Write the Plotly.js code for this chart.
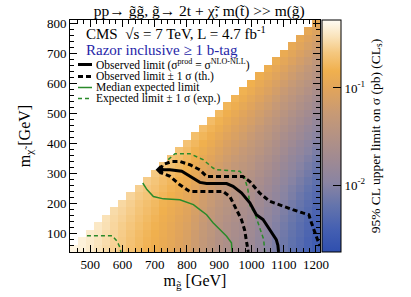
<!DOCTYPE html>
<html><head><meta charset="utf-8">
<script src="https://cdn.plot.ly/plotly-3.0.1.min.js"></script>
<style>html,body{margin:0;padding:0;background:#fff}#plot{width:411px;height:297px}</style>
</head><body><div id="plot"></div>
<script>
// gluino mass bin centres (GeV) and LSP mass bin centres (GeV)
const gluinoMass = [450,475,500,525,550,575,600,625,650,675,700,725,750,775,800,825,850,875,900,925,950,975,1000,1025,1050,1075,1100,1125,1150,1175,1200];
const lspMass = [50,75,100,125,150,175,200,225,250,275,300,325,350,375,400,425,450,475,500,525,550,575,600,625,650,675,700,725,750,775,800];
// log10 of the 95% CL upper limit on sigma (pb); one list per gluino mass, from m(LSP)=50 upward
const log10Limit = [
[-0.35],
[-0.38,-0.38],
[-0.42,-0.42,-0.42],
[-0.47,-0.46,-0.45,-0.44],
[-0.52,-0.51,-0.51,-0.49,-0.48],
[-0.58,-0.57,-0.56,-0.55,-0.54,-0.52],
[-0.63,-0.62,-0.61,-0.60,-0.58,-0.56,-0.54],
[-0.69,-0.68,-0.67,-0.65,-0.63,-0.61,-0.59,-0.56],
[-0.75,-0.74,-0.73,-0.71,-0.69,-0.67,-0.65,-0.62,-0.59],
[-0.80,-0.79,-0.78,-0.76,-0.74,-0.72,-0.70,-0.67,-0.64,-0.61],
[-0.85,-0.84,-0.83,-0.81,-0.79,-0.77,-0.75,-0.72,-0.69,-0.66,-0.63],
[-0.91,-0.90,-0.89,-0.87,-0.85,-0.83,-0.81,-0.78,-0.75,-0.72,-0.68,-0.65],
[-0.97,-0.96,-0.95,-0.93,-0.91,-0.89,-0.86,-0.83,-0.80,-0.77,-0.73,-0.70,-0.66],
[-1.04,-1.03,-1.02,-1.00,-0.98,-0.95,-0.92,-0.89,-0.86,-0.83,-0.79,-0.75,-0.71,-0.67],
[-1.11,-1.10,-1.09,-1.07,-1.04,-1.02,-0.99,-0.96,-0.92,-0.89,-0.85,-0.81,-0.77,-0.73,-0.68],
[-1.22,-1.21,-1.20,-1.17,-1.15,-1.12,-1.09,-1.06,-1.02,-0.98,-0.94,-0.90,-0.85,-0.81,-0.76,-0.71],
[-1.33,-1.32,-1.30,-1.28,-1.25,-1.22,-1.19,-1.15,-1.11,-1.07,-1.03,-0.98,-0.93,-0.88,-0.83,-0.78,-0.72],
[-1.42,-1.41,-1.39,-1.37,-1.34,-1.31,-1.27,-1.24,-1.20,-1.15,-1.11,-1.06,-1.01,-0.96,-0.90,-0.85,-0.79,-0.73],
[-1.52,-1.51,-1.49,-1.47,-1.44,-1.41,-1.37,-1.33,-1.29,-1.25,-1.20,-1.15,-1.10,-1.05,-0.99,-0.93,-0.87,-0.81,-0.75],
[-1.59,-1.58,-1.56,-1.54,-1.51,-1.48,-1.45,-1.41,-1.37,-1.33,-1.28,-1.23,-1.18,-1.13,-1.08,-1.02,-0.96,-0.90,-0.84,-0.78],
[-1.66,-1.65,-1.63,-1.61,-1.58,-1.55,-1.52,-1.48,-1.44,-1.40,-1.35,-1.31,-1.26,-1.20,-1.15,-1.09,-1.04,-0.98,-0.92,-0.85,-0.79],
[-1.72,-1.71,-1.69,-1.67,-1.64,-1.61,-1.58,-1.55,-1.51,-1.46,-1.42,-1.37,-1.33,-1.28,-1.22,-1.17,-1.11,-1.06,-1.00,-0.94,-0.87,-0.81],
[-1.78,-1.77,-1.75,-1.73,-1.71,-1.68,-1.65,-1.61,-1.57,-1.53,-1.49,-1.44,-1.40,-1.35,-1.30,-1.25,-1.19,-1.13,-1.08,-1.02,-0.96,-0.89,-0.83],
[-1.88,-1.87,-1.85,-1.83,-1.81,-1.78,-1.74,-1.71,-1.67,-1.63,-1.58,-1.54,-1.49,-1.44,-1.39,-1.34,-1.28,-1.22,-1.17,-1.11,-1.04,-0.98,-0.92,-0.85],
[-1.97,-1.96,-1.94,-1.92,-1.90,-1.87,-1.83,-1.80,-1.76,-1.72,-1.67,-1.63,-1.58,-1.53,-1.48,-1.42,-1.37,-1.31,-1.25,-1.19,-1.13,-1.06,-1.00,-0.93,-0.86],
[-2.07,-2.06,-2.04,-2.02,-1.99,-1.96,-1.93,-1.89,-1.85,-1.81,-1.77,-1.72,-1.67,-1.62,-1.57,-1.52,-1.46,-1.40,-1.34,-1.28,-1.22,-1.15,-1.09,-1.02,-0.95,-0.88],
[-2.16,-2.15,-2.13,-2.11,-2.08,-2.05,-2.02,-1.98,-1.95,-1.90,-1.86,-1.81,-1.77,-1.71,-1.66,-1.61,-1.55,-1.49,-1.43,-1.37,-1.31,-1.25,-1.18,-1.11,-1.04,-0.97,-0.90],
[-2.25,-2.24,-2.22,-2.20,-2.17,-2.14,-2.11,-2.07,-2.04,-1.99,-1.95,-1.90,-1.86,-1.81,-1.75,-1.70,-1.64,-1.59,-1.53,-1.46,-1.40,-1.34,-1.27,-1.20,-1.14,-1.06,-0.99,-0.92],
[-2.33,-2.32,-2.30,-2.28,-2.25,-2.22,-2.19,-2.16,-2.12,-2.08,-2.03,-1.99,-1.94,-1.89,-1.84,-1.78,-1.73,-1.67,-1.61,-1.55,-1.49,-1.42,-1.36,-1.29,-1.22,-1.15,-1.08,-1.00,-0.93],
[-2.42,-2.41,-2.39,-2.37,-2.34,-2.31,-2.28,-2.25,-2.21,-2.17,-2.12,-2.08,-2.03,-1.98,-1.93,-1.87,-1.82,-1.76,-1.70,-1.64,-1.58,-1.51,-1.45,-1.38,-1.31,-1.24,-1.17,-1.10,-1.03,-0.95],
[-2.50,-2.49,-2.47,-2.45,-2.43,-2.40,-2.36,-2.33,-2.29,-2.25,-2.21,-2.16,-2.11,-2.06,-2.01,-1.96,-1.90,-1.85,-1.79,-1.73,-1.67,-1.60,-1.54,-1.47,-1.41,-1.34,-1.27,-1.19,-1.12,-1.05,-0.97]
];
// limit contours (m_gluino, m_LSP)
const obsX = [717,747,784,809,840,861,923,943,969,995,1015,1036,1052,1066,1077,1082,1084];
const obsY = [312,312,307,290,270,266,266,257,235,202,162,146,120,100,79,60,37.5];
const obsUpX = [717,725,753,778,809,840,861,880,973,995,1025,1056,1097,1128,1159,1178,1186,1196,1206,1212.5];
const obsUpY = [312,329,340,340,329,312,290,290,290,273,235,207,190,179,168,162,135,101,75,58];
const obsDnX = [717,722,748,778,809,840,881,912,933,948,958,969,979,989,990];
const obsDnY = [312,301,290,262,240,240,240,240,223,190,168,146,110,50,37.5];
const expX = [663,676,696,727,778,820,840,861,881,902,923,938,940];
const expY = [268,246,223,215,212,196,179,162,135,112,90,68,37.5];
const expUpX = [742,763,809,850,881,892,964,979,989,996,1010,1025,1038,1041];
const expUpY = [346,366,366,346,318,312,307,285,246,190,168,123,79,37.5];
const expDnX = [490,568,583,593,595];
const expDnY = [92,92,74,51,37.5];
// colour bar
const cbMin = -2.69, cbMax = -0.30;
const cbMajor = [0.01, 0.1];
const cbMajorText = ['10<sup>-2</sup>', '10<sup>-1</sup>'];
const cbMinor = [0.003,0.004,0.005,0.006,0.007,0.008,0.009,0.02,0.03,0.04,0.05,0.06,0.07,0.08,0.09,0.2,0.3,0.4];

const z = lspMass.map((m, j) => gluinoMass.map((g, k) => {
  const col = log10Limit[k];
  return (col && j < col.length) ? col[j] : null;
}));

const FONT = 'Liberation Serif, Times New Roman, serif';

const colorscale = [
  [0.00, '#2f4fae'], [0.10, '#4560b2'], [0.20, '#6474ac'], [0.30, '#8a84a2'],
  [0.40, '#a08a92'], [0.50, '#b49284'], [0.60, '#c89a74'], [0.70, '#e0a45c'],
  [0.78, '#f0b04e'], [0.86, '#f5c880'], [0.93, '#fae4bc'], [1.00, '#fffcf4']
];

const CB_X = 1.008, CB_W = 19, PLOT_W = 250, PLOT_H = 232;
const GREEN = '#2a8a2a';
const traces = [
  {type: 'heatmap', x: gluinoMass, y: lspMass, z: z, zmin: cbMin, zmax: cbMax,
   colorscale: colorscale, hoverinfo: 'skip', zsmooth: false,
   colorbar: {x: CB_X, xanchor: 'left', xpad: 0, ypad: 0, y: 0.5, yanchor: 'middle',
     len: 1, lenmode: 'fraction', thickness: CB_W, outlinecolor: '#000', outlinewidth: 1,
     tickmode: 'array', tickvals: cbMajor.map(Math.log10), ticktext: cbMajorText, ticks: 'inside', ticklen: 8,
     tickcolor: '#000', tickfont: {family: FONT, size: 13, color: '#000'},
     title: {text: '95% CL upper limit on σ (pb) (CL<sub>s</sub>)', side: 'right',
       font: {family: FONT, size: 13.5, color: '#000'}}}},
  {type: 'scatter', mode: 'lines', x: expDnX, y: expDnY, line: {color: GREEN, width: 1.5, dash: '4px,3px'}, hoverinfo: 'skip'},
  {type: 'scatter', mode: 'lines', x: expUpX, y: expUpY, line: {color: GREEN, width: 1.5, dash: '4px,3px'}, hoverinfo: 'skip'},
  {type: 'scatter', mode: 'lines', x: expX, y: expY, line: {color: GREEN, width: 1.5}, hoverinfo: 'skip'},
  {type: 'scatter', mode: 'lines', x: obsUpX, y: obsUpY, line: {color: '#000', width: 3, dash: '5px,3px'}, hoverinfo: 'skip'},
  {type: 'scatter', mode: 'lines', x: obsDnX, y: obsDnY, line: {color: '#000', width: 3, dash: '5px,3px'}, hoverinfo: 'skip'},
  {type: 'scatter', mode: 'lines', x: obsX, y: obsY, line: {color: '#000', width: 3}, hoverinfo: 'skip'},
  {type: 'scatter', mode: 'markers', x: obsX.slice(0, 1), y: obsY.slice(0, 1), marker: {color: '#000', size: 7, symbol: 'diamond'}, hoverinfo: 'skip'}
];

function ax(range, title, standoff) {
  return {range: range, dtick: 100, tick0: 0, ticks: 'inside', ticklen: 7, tickwidth: 1, tickcolor: '#000',
    showline: true, linecolor: '#000', linewidth: 1, mirror: 'ticks', showgrid: false, zeroline: false,
    minor: {dtick: 20, tick0: 0, ticks: 'inside', ticklen: 4, tickcolor: '#000', showgrid: false},
    tickfont: {family: FONT, size: 13, color: '#000'},
    title: {text: title, font: {family: FONT, size: 16, color: '#000'}, standoff: standoff}};
}

// paper coordinates helpers for legend decoration (plot area 250 x 232, left 70, top 20)
const px = v => (v - 70) / PLOT_W, py = v => (252 - v) / PLOT_H;
const legendRows = [
  {text: 'Observed limit (σ<sup>prod</sup> = σ<sup>NLO-NLL</sup>)', color: '#000', width: 3, dash: 'solid', y: 64.5},
  {text: 'Observed limit ± 1 σ (th.)', color: '#000', width: 3, dash: '5px,3px', y: 76.5},
  {text: 'Median expected limit', color: GREEN, width: 1.5, dash: 'solid', y: 87.5},
  {text: 'Expected limit ± 1 σ (exp.)', color: GREEN, width: 1.5, dash: '4px,3px', y: 98.5}
];
const annotations = [
  {text: 'CMS  \u221As = 7 TeV, L = 4.7 fb<sup>-1</sup>', x: px(84), y: py(33), xref: 'paper', yref: 'paper', xanchor: 'left', yanchor: 'middle', showarrow: false, font: {family: FONT, size: 15, color: '#000'}},
  {text: 'Razor inclusive ≥ 1 b-tag', x: px(84), y: py(49.5), xref: 'paper', yref: 'paper', xanchor: 'left', yanchor: 'middle', showarrow: false, font: {family: FONT, size: 15, color: '#2525a8'}}
].concat(legendRows.map(r => ({text: r.text, x: px(94), y: py(r.y), xref: 'paper', yref: 'paper', xanchor: 'left', yanchor: 'middle', showarrow: false, font: {family: FONT, size: 11.5, color: '#000'}})));
const shapes = legendRows.map(r => ({type: 'line', xref: 'paper', yref: 'paper', x0: px(78), x1: px(92), y0: py(r.y), y1: py(r.y), line: {color: r.color, width: r.width, dash: r.dash}}))
  .concat(cbMinor.map(v => {
    const yy = (Math.log10(v) - cbMin) / (cbMax - cbMin);
    const xr = CB_X + CB_W / PLOT_W;
    return {type: 'line', xref: 'paper', yref: 'paper', x0: xr - 4 / PLOT_W, x1: xr, y0: yy, y1: yy, line: {color: '#000', width: 1}};
  }));

const layout = {
  width: 411, height: 297, margin: {l: 70, r: 91, t: 20, b: 45},
  paper_bgcolor: '#fff', plot_bgcolor: '#fff', showlegend: false,
  title: {text: 'pp\u2192 g\u0303g\u0303, g\u0303\u2192 2t + \u03c7\u0303; m(t\u0303) >> m(g\u0303)', xref: 'container', x: 0.485, xanchor: 'center', yref: 'container', y: 0.963, yanchor: 'middle', font: {family: FONT, size: 15.5, color: '#000'}},
  xaxis: ax([437.5, 1212.5], 'm<sub>g\u0303</sub> [GeV]', 2),
  yaxis: ax([37.5, 812.5], 'm<sub>\u03c7\u0303</sub> [GeV]', 12),
  annotations: annotations, shapes: shapes
};
Plotly.newPlot('plot', traces, layout, {displayModeBar: false, staticPlot: true});
</script></body></html>
